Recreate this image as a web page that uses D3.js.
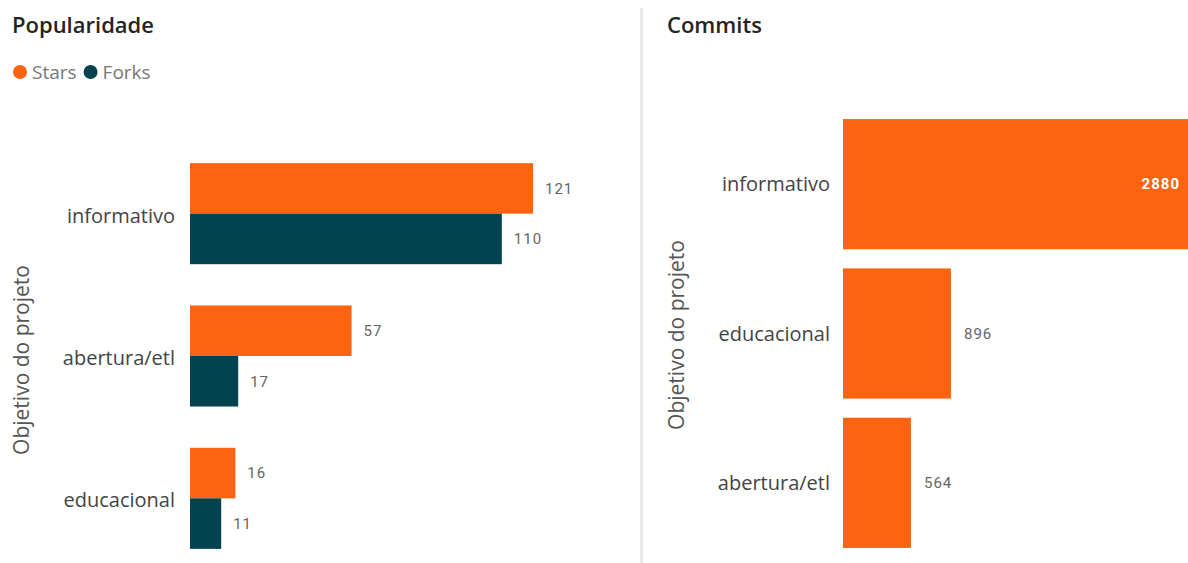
<!DOCTYPE html>
<html>
<head>
<meta charset="utf-8">
<script src="https://cdn.jsdelivr.net/npm/d3@7"></script>
<style>
  body { margin: 0; background: #fff; }
  svg { display: block; }
</style>
</head>
<body>
<svg id="chart" width="1188" height="563"></svg>
<script>
// data
const popCategories = ["informativo", "abertura/etl", "educacional"];
const seriesNames = ["Stars", "Forks"];
const stars = [121, 57, 16];
const forks = [110, 17, 11];

const commitCategories = ["informativo", "educacional", "abertura/etl"];
const commits = [2880, 896, 564];

const orange = "#fd6412";
const teal = "#01434f";
const colors = { Stars: orange, Forks: teal };

const svg = d3.select("#chart");
const labelFont = "'Open Sans', 'Noto Sans', sans-serif";
const valueFont = "Roboto, 'DejaVu Sans', sans-serif";

// divider between the two visuals
svg.append("rect")
    .attr("x", 640).attr("y", 8)
    .attr("width", 3).attr("height", 555)
    .attr("fill", "#e9e9e9");

// ---------- Popularidade ----------
svg.append("text")
    .attr("x", 12).attr("y", 33)
    .attr("font-family", labelFont)
    .attr("font-size", 22).attr("font-weight", 600)
    .attr("fill", "#252423")
    .text("Popularidade");

// legend
let lx = 20;
seriesNames.forEach(function (name) {
    svg.append("circle")
        .attr("cx", lx).attr("cy", 72).attr("r", 7)
        .attr("fill", colors[name]);
    const t = svg.append("text")
        .attr("x", lx + 12).attr("y", 79)
        .attr("font-family", labelFont)
        .attr("font-size", 19)
        .attr("fill", "#777")
        .text(name);
    lx = lx + 12 + t.node().getComputedTextLength() + 14;
});

const popData = popCategories.map(function (c, i) {
    return { cat: c, Stars: stars[i], Forks: forks[i] };
});

const y0 = d3.scaleBand()
    .domain(popCategories)
    .range([142.5, 569.5])
    .paddingInner(0.29)
    .paddingOuter(0.145);

const y1 = d3.scaleBand()
    .domain(seriesNames)
    .range([0, y0.bandwidth()]);

const xPop = d3.scaleLinear()
    .domain([0, 121])
    .range([190, 533]);

const popAxis = svg.append("g")
    .attr("transform", "translate(190,0)")
    .call(d3.axisLeft(y0).tickSize(0).tickPadding(15));
popAxis.select(".domain").remove();
popAxis.selectAll("text")
    .attr("font-family", labelFont)
    .attr("font-size", 20)
    .attr("fill", "#444")
    .attr("dy", "0.45em");

const groups = svg.selectAll("g.pop")
    .data(popData)
    .enter()
    .append("g")
    .attr("class", "pop")
    .attr("transform", function (d) { return "translate(0," + y0(d.cat) + ")"; });

groups.selectAll("rect")
    .data(function (d) { return seriesNames.map(function (s) { return { key: s, value: d[s] }; }); })
    .enter()
    .append("rect")
    .attr("x", xPop(0))
    .attr("y", function (d) { return y1(d.key); })
    .attr("width", function (d) { return xPop(d.value) - xPop(0); })
    .attr("height", y1.bandwidth())
    .attr("fill", function (d) { return colors[d.key]; });

groups.selectAll("text.val")
    .data(function (d) { return seriesNames.map(function (s) { return { key: s, value: d[s] }; }); })
    .enter()
    .append("text")
    .attr("class", "val")
    .attr("x", function (d) { return xPop(d.value) + 12; })
    .attr("y", function (d) { return y1(d.key) + y1.bandwidth() / 2; })
    .attr("dy", "0.35em")
    .attr("font-family", valueFont)
    .attr("font-size", 15)
    .attr("letter-spacing", 1)
    .attr("fill", "#666")
    .text(function (d) { return d.value; });

svg.append("text")
    .attr("transform", "translate(29,360) rotate(-90)")
    .attr("text-anchor", "middle")
    .attr("font-family", labelFont)
    .attr("font-size", 21)
    .attr("fill", "#555")
    .text("Objetivo do projeto");

// ---------- Commits ----------
svg.append("text")
    .attr("x", 667).attr("y", 33)
    .attr("font-family", labelFont)
    .attr("font-size", 22).attr("font-weight", 600)
    .attr("fill", "#252423")
    .text("Commits");

const yC = d3.scaleBand()
    .domain(commitCategories)
    .range([109.5, 557.5])
    .paddingInner(0.128)
    .paddingOuter(0.064);

const xC = d3.scaleLinear()
    .domain([0, 2880])
    .range([843, 1190]);

const cAxis = svg.append("g")
    .attr("transform", "translate(843,0)")
    .call(d3.axisLeft(yC).tickSize(0).tickPadding(13));
cAxis.select(".domain").remove();
cAxis.selectAll("text")
    .attr("font-family", labelFont)
    .attr("font-size", 20)
    .attr("fill", "#444")
    .attr("dy", "0.35em");

svg.selectAll("rect.commit")
    .data(commits)
    .enter()
    .append("rect")
    .attr("class", "commit")
    .attr("x", xC(0))
    .attr("y", function (d, i) { return yC(commitCategories[i]); })
    .attr("width", function (d) { return xC(d) - xC(0); })
    .attr("height", yC.bandwidth())
    .attr("fill", orange);

svg.selectAll("text.cval")
    .data(commits)
    .enter()
    .append("text")
    .attr("class", "cval")
    .attr("x", function (d) {
        const w = xC(d) - xC(0);
        return w > 200 ? xC(d) - 10 : xC(d) + 13;
    })
    .attr("y", function (d, i) { return yC(commitCategories[i]) + yC.bandwidth() / 2; })
    .attr("dy", "0.35em")
    .attr("text-anchor", function (d) { return (xC(d) - xC(0)) > 200 ? "end" : "start"; })
    .attr("font-family", valueFont)
    .attr("font-size", 15)
    .attr("letter-spacing", 1)
    .attr("font-weight", function (d) { return (xC(d) - xC(0)) > 200 ? 700 : 400; })
    .attr("fill", function (d) { return (xC(d) - xC(0)) > 200 ? "#fff" : "#666"; })
    .text(function (d) { return d; });

svg.append("text")
    .attr("transform", "translate(684,335) rotate(-90)")
    .attr("text-anchor", "middle")
    .attr("font-family", labelFont)
    .attr("font-size", 21)
    .attr("fill", "#555")
    .text("Objetivo do projeto");
</script>
</body>
</html>
